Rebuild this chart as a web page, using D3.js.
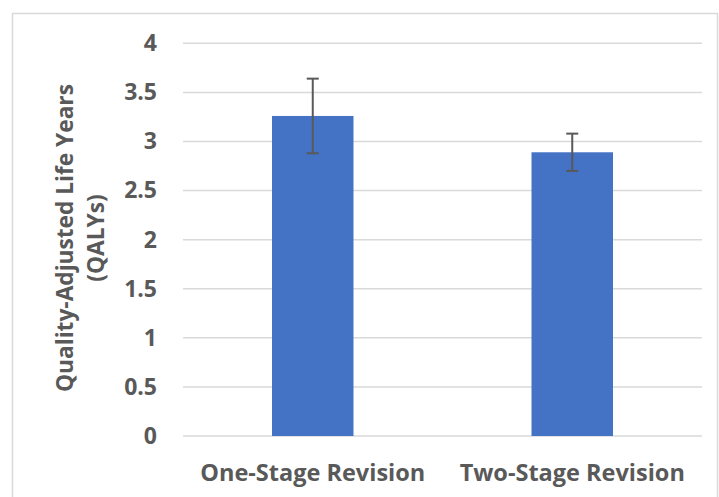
<!DOCTYPE html>
<html>
<head>
<meta charset="utf-8">
<script src="https://cdn.jsdelivr.net/npm/d3@7/dist/d3.min.js"></script>
<style>
  html, body { margin: 0; padding: 0; background: #fff; }
  svg { display: block; }
  text { font-family: "Open Sans", "Lato", sans-serif; font-weight: 700; fill: #595959; }
</style>
</head>
<body>
<svg id="chart" width="719" height="497"></svg>
<script>
const categories = ["One-Stage Revision", "Two-Stage Revision"];
const values = [3.26, 2.89];
const errors = [0.38, 0.19];
const yTicks = [0, 0.5, 1, 1.5, 2, 2.5, 3, 3.5, 4];
const yTitleLines = ["Quality-Adjusted Life Years", "(QALYs)"];

const svg = d3.select("#chart");
const plot = { left: 183, right: 702, top: 43.3, bottom: 436 };

// outer chart border
svg.append("rect")
  .attr("x", 12.5).attr("y", 13.5)
  .attr("width", 705).attr("height", 500)
  .attr("fill", "none").attr("stroke", "#d9d9d9").attr("stroke-width", 1.5);

const x = d3.scaleBand().domain(categories)
  .range([plot.left, plot.right]).paddingInner(0.686).paddingOuter(0.343);
const y = d3.scaleLinear().domain([0, 4]).range([plot.bottom, plot.top]);

// gridlines
svg.append("g").selectAll("line").data(yTicks).join("line")
  .attr("x1", plot.left).attr("x2", plot.right)
  .attr("y1", d => y(d)).attr("y2", d => y(d))
  .attr("stroke", "#d9d9d9").attr("stroke-width", 1.5);

// y axis tick labels
const yAxis = d3.axisLeft(y).tickValues(yTicks).tickSize(0).tickPadding(0)
  .tickFormat(d3.format("~g"));
const gy = svg.append("g").attr("transform", `translate(157,0)`).call(yAxis);
gy.select(".domain").remove();
gy.selectAll("text").attr("font-size", 23).attr("fill", "#595959")
  .style("font-family", '"Open Sans", sans-serif').style("font-weight", 700);

// bars
svg.append("g").selectAll("rect").data(values).join("rect")
  .attr("x", (d, i) => x(categories[i]))
  .attr("width", x.bandwidth())
  .attr("y", d => y(d))
  .attr("height", d => y(0) - y(d))
  .attr("fill", "#4472c4");

// error bars
const eg = svg.append("g").attr("stroke", "#595959").attr("stroke-width", 2);
values.forEach((v, i) => {
  const cx = x(categories[i]) + x.bandwidth() / 2;
  const hi = y(v + errors[i]), lo = y(v - errors[i]);
  eg.append("line").attr("x1", cx).attr("x2", cx).attr("y1", hi).attr("y2", lo);
  eg.append("line").attr("x1", cx - 6).attr("x2", cx + 6).attr("y1", hi).attr("y2", hi);
  eg.append("line").attr("x1", cx - 6).attr("x2", cx + 6).attr("y1", lo).attr("y2", lo);
});

// x axis labels
const xAxis = d3.axisBottom(x).tickSize(0).tickPadding(0);
const gx = svg.append("g").attr("transform", `translate(0,${plot.bottom})`).call(xAxis);
gx.select(".domain").remove();
gx.selectAll("text").attr("font-size", 23.5).attr("dy", null).attr("y", 45)
  .attr("fill", "#595959")
  .style("font-family", '"Open Sans", sans-serif').style("font-weight", 700);

// y title
const yt = svg.append("text")
  .attr("transform", `translate(73,238) rotate(-90)`)
  .attr("text-anchor", "middle")
  .attr("font-size", 22.7);
yTitleLines.forEach((t, i) => {
  yt.append("tspan").attr("x", 0).attr("y", i * 30.5).text(t);
});
</script>
</body>
</html>
